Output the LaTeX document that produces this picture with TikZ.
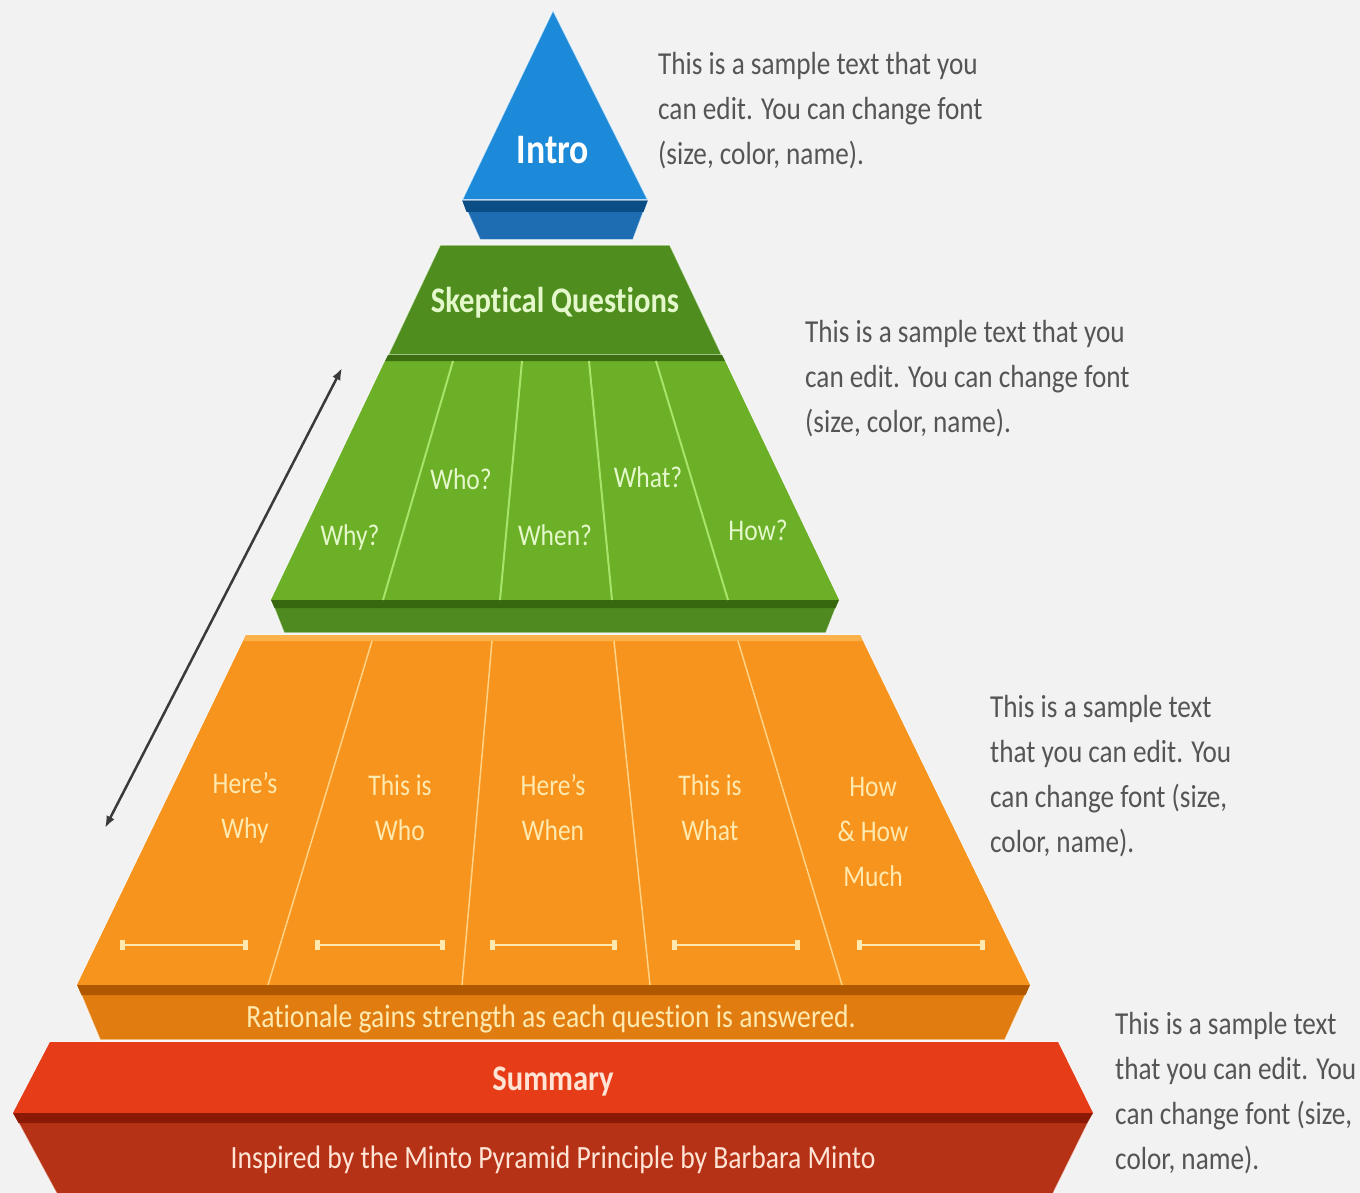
\documentclass[tikz,border=0pt]{standalone}
\usepackage{fontspec}
\setmainfont{Carlito}[FakeStretch=0.85, Ligatures={NoCommon}]
\usetikzlibrary{arrows.meta}
\definecolor{bg}{HTML}{F2F2F2}
\definecolor{introtop}{HTML}{1C8AD8}
\definecolor{introdark}{HTML}{0B4E86}
\definecolor{introlow}{HTML}{1E6DB3}
\definecolor{gband}{HTML}{4F8E1E}
\definecolor{gline}{HTML}{3B6E10}
\definecolor{gmain}{HTML}{6BB026}
\definecolor{gdark}{HTML}{376810}
\definecolor{glow}{HTML}{4E8A20}
\definecolor{gdiv}{HTML}{A8E46A}
\definecolor{gtext}{HTML}{E4F8CC}
\definecolor{omain}{HTML}{F7941D}
\definecolor{oedge}{HTML}{FBB24A}
\definecolor{odark}{HTML}{B05800}
\definecolor{olow}{HTML}{E07C10}
\definecolor{odiv}{HTML}{FFD285}
\definecolor{otext}{HTML}{FFE9AE}
\definecolor{rtop}{HTML}{E63D18}
\definecolor{rdark}{HTML}{8A1A05}
\definecolor{rlow}{HTML}{B63216}
\definecolor{rtext}{HTML}{FFE4D6}
\definecolor{side}{HTML}{555555}
\definecolor{arr}{HTML}{3A3A3A}
\tikzset{
  sidetext/.style={text=side, align=left, anchor=north west, inner sep=0pt,
    font=\fontsize{32}{45}\selectfont},
  glabel/.style={text=gtext, font=\fontsize{30}{36}\selectfont, inner sep=0pt},
  olabel/.style={text=otext, align=center, font=\fontsize{30}{45}\selectfont, inner sep=0pt},
  title/.style={font=\bfseries\fontsize{36}{40}\selectfont, inner sep=0pt},
  gdivline/.style={draw=gdiv, line width=2pt},
  odivline/.style={draw=odiv, line width=1.5pt},
  meas/.style={draw=otext, line width=2.5pt, {Rectangle[length=5pt,width=10pt]}-{Rectangle[length=5pt,width=10pt]}},
  halo/.style={draw=white, line width=1.5pt, draw opacity=0.7}
}
\begin{document}
\begin{tikzpicture}[x=1pt,y=-1pt]
\fill[bg] (0,0) rectangle (1360,1193);
\useasboundingbox (0,0) rectangle (1360,1193);

% ---------- Intro ----------
\fill[introlow, halo] (462,200) -- (648,200) -- (633,240) -- (480,240) -- cycle;
\fill[introdark] (462,200) -- (648,200) -- (643.5,212) -- (466.5,212) -- cycle;
\fill[introtop, halo] (553,10) -- (648,200) -- (462,200) -- cycle;
\node[title, text=white, font=\bfseries\fontsize{42}{44}\selectfont] (intro) at (553,150) {Intro};

% ---------- Green ----------
\fill[glow, halo] (385,361) -- (725,361) -- (839,600) -- (826,633) -- (284,633) -- (271,600) -- cycle;
\fill[gmain] (385,361) -- (725,361) -- (839,600) -- (271,600) -- cycle;
\fill[gdark] (271,600) -- (839,600) -- (835.5,608) -- (274.5,608) -- cycle;
\fill[gband, halo] (440,245) -- (670,245) -- (722,355) -- (388,355) -- cycle;
\fill[gline] (388,355) -- (722,355) -- (725,361) -- (385,361) -- cycle;
\draw[gdivline] (453,361) -- (383,600);
\draw[gdivline] (522,361) -- (500,600);
\draw[gdivline] (589,361) -- (612,600);
\draw[gdivline] (656,361) -- (728,600);
\node[title, text=gtext] (skeptical) at (555,303) {Skeptical Questions};
\node[glabel] (why) at (350,537) {Why?};
\node[glabel] (who) at (461,479) {Who?};
\node[glabel] (when) at (555,535) {When?};
\node[glabel] (what) at (648,477) {What?};
\node[glabel] (how) at (758,530) {How?};

% ---------- Orange ----------
\fill[olow, halo] (246,635) -- (860,635) -- (1030,985) -- (1005,1040) -- (100,1040) -- (77,985) -- cycle;
\fill[omain] (246,635) -- (860,635) -- (1030,985) -- (77,985) -- cycle;
\fill[oedge] (246,635) -- (860,635) -- (862.5,641) -- (243.5,641) -- cycle;
\fill[odark] (77,985) -- (1030,985) -- (1025.5,995) -- (81.5,995) -- cycle;
\draw[odivline] (372,641) -- (268,985);
\draw[odivline] (492,641) -- (462,985);
\draw[odivline] (614,641) -- (650,985);
\draw[odivline] (738,641) -- (842,985);
\node[olabel] (hwhy) at (245,808) {Here's\\Why};
\node[olabel] (twho) at (400,808) {This is\\Who};
\node[olabel] (hwhen) at (553,808) {Here's\\When};
\node[olabel] (twhat) at (710,808) {This is\\What};
\node[olabel] (hmuch) at (873,832) {How\\\& How\\Much};
\coordinate (m1a) at (120,945); \coordinate (m1b) at (248,945);
\coordinate (m2a) at (315,945); \coordinate (m2b) at (445,945);
\coordinate (m3a) at (490,945); \coordinate (m3b) at (617,945);
\coordinate (m4a) at (672,945); \coordinate (m4b) at (800,945);
\coordinate (m5a) at (857,945); \coordinate (m5b) at (985,945);
\draw[meas] (m1a) -- (m1b);
\draw[meas] (m2a) -- (m2b);
\draw[meas] (m3a) -- (m3b);
\draw[meas] (m4a) -- (m4b);
\draw[meas] (m5a) -- (m5b);
\node[text=otext, font=\fontsize{32.5}{36}\selectfont, inner sep=0pt] (rationale) at (551,1019) {Rationale gains strength as each question is answered.};

% ---------- Red ----------
\fill[rlow, halo] (50,1042) -- (1058,1042) -- (1093,1113) -- (1050,1200) -- (60,1200) -- (13,1113) -- cycle;
\fill[rtop] (50,1042) -- (1058,1042) -- (1093,1113) -- (13,1113) -- cycle;
\fill[rdark] (13,1113) -- (1093,1113) -- (1087,1123) -- (18.5,1123) -- cycle;
\node[title, text=rtext] (summary) at (553,1082) {Summary};
\node[text=rtext, font=\fontsize{32.5}{36}\selectfont, inner sep=0pt] (minto) at (553,1160) {Inspired by the Minto Pyramid Principle by Barbara Minto};

% ---------- Arrow ----------
\coordinate (atop) at (342,368);
\coordinate (abot) at (105,828);
\draw[arr, line width=2.5pt, {Latex[length=12pt,width=9pt]}-{Latex[length=12pt,width=9pt]}] (atop) -- (abot);

% ---------- Side texts ----------
\node[sidetext] (s1) at (658,52) {This is a sample text that you\\can edit. You can change font\\(size, color, name).};
\node[sidetext] (s2) at (805,320) {This is a sample text that you\\can edit. You can change font\\(size, color, name).};
\node[sidetext] (s3) at (990,695) {This is a sample text\\that you can edit. You\\can change font (size,\\color, name).};
\node[sidetext] (s4) at (1115,1012) {This is a sample text\\that you can edit. You\\can change font (size,\\color, name).};
\end{tikzpicture}
\end{document}
